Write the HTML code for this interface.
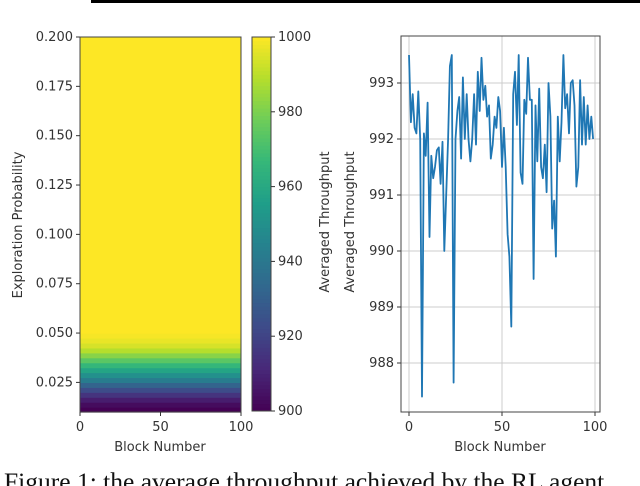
<!DOCTYPE html>
<html><head><meta charset="utf-8"><style>
html,body{margin:0;padding:0;background:#fff;width:640px;height:486px;overflow:hidden}
svg{display:block;font-family:"DejaVu Sans","Liberation Sans",sans-serif}
</style></head><body>
<svg id="fig" width="640" height="486" viewBox="0 0 640 486">
<rect x="91" y="0" width="549" height="3" fill="#000"/>
<g id="heat"></g>
<g id="cbar"></g>
<g id="line"></g>
<text x="4" y="490" font-family="'Liberation Serif',serif" font-size="25.5" fill="#111">Figure 1: the average throughput achieved by the RL agent</text>
</svg>
<script>
// Heatmap data: exploration probability rows and throughput values
const heatProbs = [0.01,0.0125,0.015,0.0175,0.02,0.0225,0.025,0.0275,0.03,0.0325,0.035,0.0375,0.04,0.0425,0.045,0.0475,0.05,0.2];
const heatValues = [900,903,908,915,923,932,942,950,958,966,974,982,989,994,997,999,1000,1000];
const heatXTicks = [0,50,100];
const heatYTicks = [0.025,0.050,0.075,0.100,0.125,0.150,0.175,0.200];
const cbarTicks = [900,920,940,960,980,1000];
// Line chart data
const lineValues = [993.5,992.3,992.8,992.2,992.1,992.85,992.0,987.4,992.1,991.7,992.65,990.25,991.7,991.3,991.5,991.8,991.85,991.2,991.95,990.0,991.0,992.0,993.3,993.5,987.65,992.0,992.5,992.75,991.65,993.1,992.0,992.8,992.0,991.6,992.0,992.8,991.9,993.2,992.5,993.45,992.7,992.95,992.4,992.6,991.65,991.9,992.4,992.2,992.75,992.5,991.5,992.2,991.5,990.3,989.9,988.65,992.8,993.2,992.25,993.5,991.4,991.2,992.7,992.45,993.45,992.7,992.7,989.5,992.6,991.6,992.9,991.5,991.3,991.9,991.05,993.0,992.4,990.4,990.9,989.9,992.4,991.6,992.3,993.5,992.55,992.8,992.1,993.0,993.05,992.6,991.15,991.5,993.05,991.9,992.75,991.9,992.6,992.0,992.4,992.0];
const lineXTicks = [0,50,100];
const lineYTicks = [988,989,990,991,992,993];

const NS='http://www.w3.org/2000/svg';
function mk(parent,tag,attrs,text){const e=document.createElementNS(NS,tag);for(const k in attrs)e.setAttribute(k,attrs[k]);if(text!==undefined)e.textContent=text;parent.appendChild(e);return e;}
const VIR=[[68,1,84],[72,40,120],[62,74,137],[49,104,142],[38,130,142],[31,158,137],[53,183,121],[109,205,89],[180,222,44],[253,231,37]];
function viridis(t){t=Math.max(0,Math.min(1,t));const p=t*(VIR.length-1),i=Math.min(VIR.length-2,Math.floor(p)),f=p-i;const c=VIR[i].map((v,k)=>Math.round(v+(VIR[i+1][k]-v)*f));return `rgb(${c[0]},${c[1]},${c[2]})`;}
const cmap=v=>viridis((v-900)/100);
const FS=13;

// Heatmap
const H=document.getElementById('heat');
const hx0=80,hx1=241,hy0=37,hy1=412;
const hX=v=>hx0+(v/100)*(hx1-hx0);
const hY=p=>hy1-(p-0.01)/(0.2-0.01)*(hy1-hy0);
for(let i=0;i<heatProbs.length-1;i++){
  const y1=hY(heatProbs[i]),y2=hY(heatProbs[i+1]);
  const r=mk(H,'rect',{x:hx0,y:y2,width:hx1-hx0,height:y1-y2+0.6,fill:cmap(heatValues[i])});
  
  
}
let r0=mk(H,'rect',{x:hx0,y:hy0,width:hx1-hx0,height:hy1-hy0,fill:'none',stroke:'#444','stroke-width':1});

heatXTicks.forEach(t=>{const x=hX(t);mk(H,'line',{x1:x,x2:x,y1:hy1,y2:hy1+4,stroke:'#333'});
  const tx=mk(H,'text',{x:x,y:hy1+19,'text-anchor':'middle','font-size':FS,fill:'#333'},String(t));
  });
heatYTicks.forEach(t=>{const y=hY(t);mk(H,'line',{x1:hx0-4,x2:hx0,y1:y,y2:y,stroke:'#333'});
  const tx=mk(H,'text',{x:hx0-7,y:y+4,'text-anchor':'end','font-size':FS,fill:'#333'},t.toFixed(3));
  });
let t1=mk(H,'text',{x:160,y:451,'text-anchor':'middle','font-size':FS,fill:'#333'},'Block Number');

let t2=mk(H,'text',{x:0,y:0,'text-anchor':'middle','font-size':FS,fill:'#333',transform:'translate(22,225) rotate(-90)'},'Exploration Probability');


// Colorbar
const C=document.getElementById('cbar');
const cx0=252,cx1=271,cy0=37,cy1=411;
const cY=v=>cy1-(v-900)/100*(cy1-cy0);
for(let v=900;v<1000;v+=1){mk(C,'rect',{x:cx0,y:cY(v+1),width:cx1-cx0,height:(cy1-cy0)/100+0.5,fill:cmap(v+0.5)});}
mk(C,'rect',{x:cx0,y:cy0,width:cx1-cx0,height:cy1-cy0,fill:'none',stroke:'#444'});
cbarTicks.forEach(t=>{const y=cY(t);mk(C,'line',{x1:cx1,x2:cx1+4,y1:y,y2:y,stroke:'#333'});
  const tx=mk(C,'text',{x:cx1+7,y:y+4,'font-size':FS,fill:'#333'},String(t));
  });
let t3=mk(C,'text',{x:0,y:0,'text-anchor':'middle','font-size':FS,fill:'#333',transform:'translate(329,222) rotate(-90)'},'Averaged Throughput');


// Line chart
const L=document.getElementById('line');
const lx0=401,lx1=600,ly0=36,ly1=412;
const lX=i=>409+i*(595-409)/100;
const lY=v=>83+(993-v)*56;
lineXTicks.forEach(t=>{const x=lX(t);mk(L,'line',{x1:x,x2:x,y1:ly0,y2:ly1,stroke:'#ccc','stroke-width':1});
  mk(L,'line',{x1:x,x2:x,y1:ly1,y2:ly1+4,stroke:'#333'});
  const tx=mk(L,'text',{x:x,y:ly1+19,'text-anchor':'middle','font-size':FS,fill:'#333'},String(t));
  });
lineYTicks.forEach(t=>{const y=lY(t);mk(L,'line',{x1:lx0,x2:lx1,y1:y,y2:y,stroke:'#ccc','stroke-width':1});
  mk(L,'line',{x1:lx0-4,x2:lx0,y1:y,y2:y,stroke:'#333'});
  const tx=mk(L,'text',{x:lx0-7,y:y+4,'text-anchor':'end','font-size':FS,fill:'#333'},String(t));
  });
const pts=lineValues.map((v,i)=>lX(i).toFixed(1)+','+lY(v).toFixed(1)).join(' ');
let pl=mk(L,'polyline',{points:pts,fill:'none',stroke:'#1f77b4','stroke-width':1.8,'stroke-linejoin':'round'});

mk(L,'rect',{x:lx0,y:ly0,width:lx1-lx0,height:ly1-ly0,fill:'none',stroke:'#444'});
let t4=mk(L,'text',{x:500,y:451,'text-anchor':'middle','font-size':FS,fill:'#333'},'Block Number');

let t5=mk(L,'text',{x:0,y:0,'text-anchor':'middle','font-size':FS,fill:'#333',transform:'translate(354,222) rotate(-90)'},'Averaged Throughput');

</script>
</body></html>
